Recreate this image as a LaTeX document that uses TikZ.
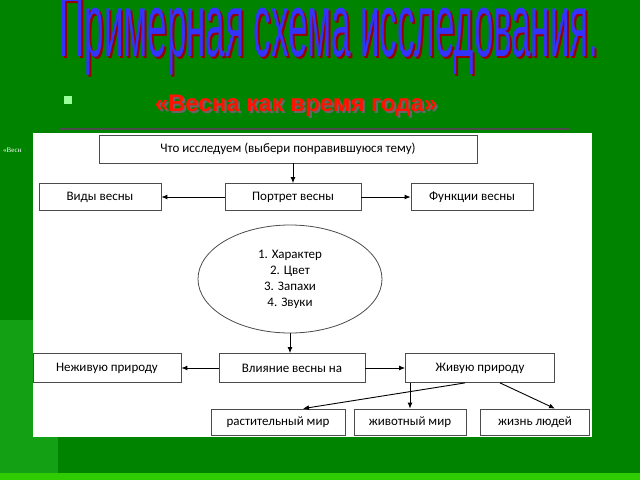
\documentclass[tikz,border=0pt]{standalone}
\usepackage{fontspec}
\setmainfont{Liberation Sans}
\newfontfamily\calfnt{Carlito}
\newfontfamily\tmsfnt{Liberation Serif}
\usetikzlibrary{arrows.meta,shapes.geometric}
\definecolor{bg}{RGB}{0,132,0}
\definecolor{bgl}{RGB}{20,160,20}
\begin{document}
\begin{tikzpicture}[x=1pt,y=-1pt,
 bx/.style={draw=black!70,line width=0.8pt,fill=white,inner sep=0pt,font=\calfnt\fontsize{13}{14}\selectfont},
 ar/.style={-{Latex[length=6pt,width=5pt]},line width=0.9pt}]
\fill[bg] (0,0) rectangle (640,480);
\fill[bgl] (0,320) rectangle (58,480);
\fill[green!70!lime!80!black] (0,473) rectangle (640,480);
\useasboundingbox (0,0) rectangle (640,480);
\node[inner sep=0pt] (shadow) at (331,37) {\resizebox{538pt}{62pt}{\textcolor{red!60!black}{Примерная схема исследования.}}};
\node[inner sep=0pt] (title) at (329,35) {\resizebox{538pt}{62pt}{\textcolor{blue!80!white}{Примерная схема исследования.}}};
\fill[green!40!white] (64,96) rectangle (72,104);
\node[text=black!60,font=\bfseries\fontsize{24}{26}\selectfont] (subsh) at (298,108) {«Весна как время года»};
\node[text=red!85!orange,font=\bfseries\fontsize{24}{26}\selectfont] (sub) at (296,106) {«Весна как время года»};
\draw[black!70,line width=2pt] (60,129) -- (570,129);
\node[text=white,font=\tmsfnt\fontsize{7}{8}\selectfont,anchor=west,inner sep=0pt] (small) at (3,150) {«Весн};
\fill[white] (33,133) rectangle (592,437);
\node[bx,minimum width=378pt,minimum height=28pt] (top) at (288,149) {Что исследуем (выбери понравившуюся тему)};
\node[bx,minimum width=122pt,minimum height=27pt] (vid) at (100,197) {Виды весны};
\node[bx,minimum width=136pt,minimum height=27pt] (port) at (293,197) {Портрет весны};
\node[bx,minimum width=122pt,minimum height=27pt] (func) at (472,197) {Функции весны};
\node[ellipse,draw=black!70,line width=0.8pt,minimum width=184pt,minimum height=108pt,align=center,inner sep=0pt,font=\calfnt\fontsize{13}{16}\selectfont] (ell) at (290,279) {1. Характер\\2. Цвет\\3. Запахи\\4. Звуки};
\node[bx,minimum width=148pt,minimum height=29pt] (nezh) at (107,368) {Неживую природу};
\node[bx,minimum width=146pt,minimum height=29pt] (vl) at (292,368) {Влияние весны на};
\node[bx,minimum width=149pt,minimum height=29pt] (zhiv) at (480,368) {Живую природу};
\node[bx,minimum width=134pt,minimum height=26pt] (rast) at (278,422) {растительный мир};
\node[bx,minimum width=112pt,minimum height=26pt] (zhm) at (410,422) {животный мир};
\node[bx,minimum width=109pt,minimum height=26pt] (lud) at (535,422) {жизнь людей};
\draw[ar] (top.south -| port.north) -- (port.north);
\draw[ar] (port.west) -- (vid.east);
\draw[ar] (port.east) -- (func.west);
\draw[ar] (ell.south) -- (vl.north -| ell.south);
\draw[ar] (vl.west) -- (nezh.east);
\draw[ar] (vl.east) -- (zhiv.west);
\draw[ar] ([xshift=-15pt]zhiv.south) -- ([xshift=25pt]rast.north);
\draw[ar] (zhiv.south -| zhm.north) -- (zhm.north);
\draw[ar] ([xshift=20pt]zhiv.south) -- ([xshift=20pt]lud.north);
\end{tikzpicture}
\end{document}
